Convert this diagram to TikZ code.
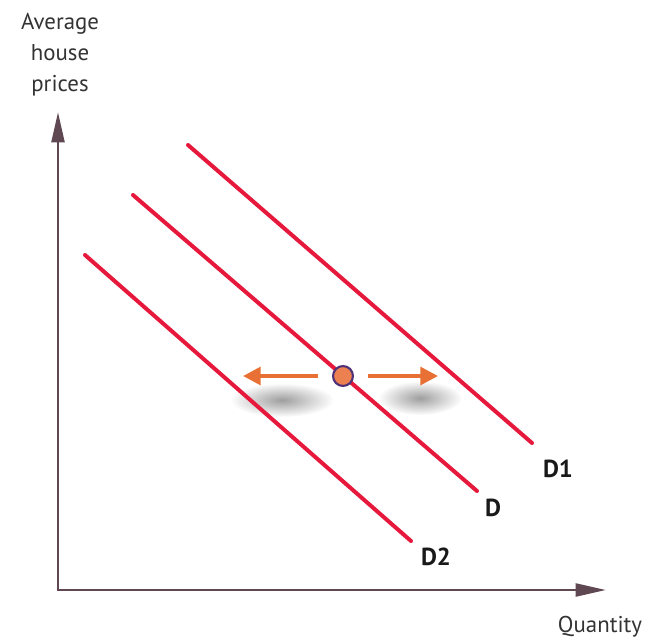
\documentclass[tikz,border=0pt]{standalone}
\usepackage{fontspec}
\setmainfont{PT Sans}
\usetikzlibrary{arrows.meta, positioning, fadings}

\definecolor{axiscol}{RGB}{95,72,82}
\definecolor{demandred}{RGB}{230,24,60}
\definecolor{shiftorange}{RGB}{232,112,52}
\definecolor{ringpurple}{RGB}{80,50,120}

\begin{document}
\begin{tikzpicture}[x=0.03cm, y=-0.03cm,
            axis/.style={draw=axiscol, line width=2.4pt, -{Triangle[length=26pt, width=11pt]}},
            demand/.style={draw=demandred, line width=3.4pt, line cap=round},
            shiftarrow/.style={draw=shiftorange, line width=3.2pt, -{Triangle[length=15pt, width=15pt]}},
            blurshadow/.style={inner color=black!38, outer color=white},
            curvelabel/.style={font=\bfseries\fontsize{21}{22}\selectfont, text=black!90},
            axislabel/.style={font=\fontsize{19.5}{26.5}\selectfont, text=black!80, align=center},
            >=Stealth]

        \useasboundingbox (0,0) rectangle (656,640);

        % axes
        \coordinate (O) at (58,590);
        \coordinate (ytip) at (58,112);
        \coordinate (xtip) at (606,590);
        \draw[axis] (O) -- (ytip);
        \draw[axis] ([xshift=-1.2pt]O) -- (xtip);
        \node[axislabel] (ylab) at (60,55) {Average\\house\\prices};
        \node[axislabel] (xlab) at (600,627) {Quantity};

        % shadows under the arrows
        \shade[blurshadow] (282,400) ellipse (52 and 17);
        \shade[blurshadow] (420,398) ellipse (42 and 17);

        % demand curves
        \coordinate (d1a) at (188,145);
        \coordinate (d1b) at (532,443);
        \coordinate (da) at (133,195);
        \coordinate (db) at (477,491);
        \coordinate (d2a) at (85,255);
        \coordinate (d2b) at (411,541);
        \draw[demand] (d1a) -- (d1b);
        \draw[demand] (da) -- (db);
        \draw[demand] (d2a) -- (d2b);
        \node[curvelabel] (lD1) at (558,469) {D1};
        \node[curvelabel] (lD) at (493,508) {D};
        \node[curvelabel] (lD2) at (436,557) {D2};

        % point and shifts
        \node[circle, draw=ringpurple, line width=1.8pt, fill=shiftorange!80!pink,
              minimum size=17pt, inner sep=0pt] (eq) at (343,376) {};
        \coordinate (left) at (243,376);
        \coordinate (right) at (438,376);
        \draw[shiftarrow] ([xshift=-12pt]eq.west) -- (left);
        \draw[shiftarrow] ([xshift=12pt]eq.east) -- (right);

    \end{tikzpicture}
\end{document}
